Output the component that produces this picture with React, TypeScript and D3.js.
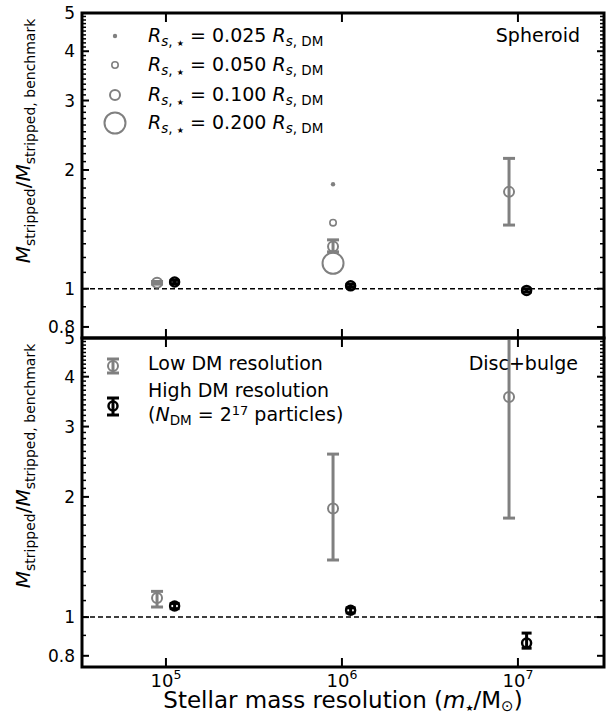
import React from 'react';
import * as d3 from 'd3';

const GRAY = '#808080';
const FONT = 'DejaVu Sans';

const resolutions = [1e5, 1e6, 1e7];
const xTickExp = [5, 6, 7];
const yMajor = [0.8, 1, 2, 3, 4, 5];
const yMajorLabels = ['0.8', '1', '2', '3', '4', '5'];
const lowOffset = 0.89;
const highOffset = 1.12;

// Spheroid panel (top)
const sphLowVal = [1.035, 1.28, 1.76];
const sphLowLo = [1.027, 1.24, 1.45];
const sphLowHi = [1.043, 1.33, 2.14];
const sphHighVal = [1.04, 1.017, 0.99];
const sphHighLo = [1.03, 1.008, 0.981];
const sphHighHi = [1.05, 1.026, 0.999];
// other stellar-size runs at 1e6 (low DM resolution)
const sizeLabels = ['0.025', '0.050', '0.100', '0.200'];
const sizeRadius = [2.2, 3.2, 5, 10.5];
const sphSizeVal = [1.84, 1.47, 1.16];
const sphSizeIdx = [0, 1, 3];

// Disc+bulge panel (bottom)
const discLowVal = [1.116, 1.87, 3.56];
const discLowLo = [1.06, 1.39, 1.77];
const discLowHi = [1.16, 2.56, 6.5];
const discHighVal = [1.066, 1.04, 0.861];
const discHighLo = [1.05, 1.025, 0.836];
const discHighHi = [1.082, 1.055, 0.912];

const L = 82, R = 604;
const x = d3.scaleLog().domain([Math.pow(10, 4.523), Math.pow(10, 7.489)]).range([L, R]);

const minorTicks: number[] = [];
for (let v = 0.8; v <= 5.001; v += 0.1) {
  const r = Math.round(v * 10) / 10;
  if (!yMajor.some((m) => Math.abs(m - r) < 1e-6)) minorTicks.push(r);
}

function ErrPoint({ cx, y, v, lo, hi, color, r, capW, lw, sw }: any) {
  return (
    <g>
      <line x1={cx} x2={cx} y1={y(lo)} y2={y(hi)} stroke={color} strokeWidth={lw} />
      <line x1={cx - capW / 2} x2={cx + capW / 2} y1={y(lo)} y2={y(lo)} stroke={color} strokeWidth={lw} />
      <line x1={cx - capW / 2} x2={cx + capW / 2} y1={y(hi)} y2={y(hi)} stroke={color} strokeWidth={lw} />
      <circle cx={cx} cy={y(v)} r={r} fill="none" stroke={color} strokeWidth={sw} />
    </g>
  );
}

function Panel({ top, bottom, id, low, lowLo, lowHi, high, highLo, highHi, children }: any) {
  const y = d3.scaleLog().domain([0.75, 5]).range([bottom, top]);
  return (
    <g>
      <defs>
        <clipPath id={id}>
          <rect x={L} y={top} width={R - L} height={bottom - top} />
        </clipPath>
      </defs>
      <g clipPath={`url(#${id})`}>
        <line x1={L} x2={R} y1={y(1)} y2={y(1)} stroke="#000" strokeWidth={1.5} strokeDasharray="5,3" />
        {resolutions.map((r, i) => (
          <ErrPoint key={'l' + i} cx={x(r * lowOffset)} y={y} v={low[i]} lo={lowLo[i]} hi={lowHi[i]}
            color={GRAY} r={5} capW={12} lw={3} sw={2} />
        ))}
        {resolutions.map((r, i) => (
          <ErrPoint key={'h' + i} cx={x(r * highOffset)} y={y} v={high[i]} lo={highLo[i]} hi={highHi[i]}
            color="#000" r={4.5} capW={10} lw={3} sw={2.5} />
        ))}
        {children ? children(y) : null}
      </g>
      {minorTicks.map((t) => (
        <g key={'m' + t}>
          <line x1={L} x2={L + 4} y1={y(t)} y2={y(t)} stroke="#000" strokeWidth={1.5} />
          <line x1={R} x2={R - 4} y1={y(t)} y2={y(t)} stroke="#000" strokeWidth={1.5} />
        </g>
      ))}
      {yMajor.map((t, i) => (
        <g key={'M' + t}>
          <line x1={L} x2={L + 7} y1={y(t)} y2={y(t)} stroke="#000" strokeWidth={2} />
          <line x1={R} x2={R - 7} y1={y(t)} y2={y(t)} stroke="#000" strokeWidth={2} />
          <text x={L - 7} y={y(t) + 6} textAnchor="end" fontSize={17} fontFamily={FONT} fill="#000">
            {yMajorLabels[i]}
          </text>
        </g>
      ))}
      {resolutions.map((r) => (
        <g key={'x' + r}>
          <line x1={x(r)} x2={x(r)} y1={bottom} y2={bottom - 9} stroke="#000" strokeWidth={2} />
          <line x1={x(r)} x2={x(r)} y1={top} y2={top + 9} stroke="#000" strokeWidth={2} />
        </g>
      ))}
      <rect x={L} y={top} width={R - L} height={bottom - top} fill="none" stroke="#000" strokeWidth={3} />
    </g>
  );
}

function YLabel({ cx, cy }: any) {
  return (
    <text transform={`translate(${cx},${cy}) rotate(-90)`} textAnchor="middle" fontFamily={FONT} fontSize={20} fill="#000">
      <tspan fontStyle="italic">M</tspan>
      <tspan fontSize={14} dy={5}>stripped</tspan>
      <tspan dy={-5}>/</tspan>
      <tspan fontStyle="italic">M</tspan>
      <tspan fontSize={14} dy={5}>stripped, benchmark</tspan>
    </text>
  );
}

function RLegendText({ tx, ty, val }: any) {
  return (
    <text x={tx} y={ty} fontFamily={FONT} fontSize={19} fill="#000">
      <tspan fontStyle="italic">R</tspan>
      <tspan fontSize={13.5} dy={4} fontStyle="italic">s</tspan>
      <tspan fontSize={13.5}>, </tspan>
      <tspan fontSize={8}>★</tspan>
      <tspan dy={-4}>{' = ' + val + ' '}</tspan>
      <tspan fontStyle="italic">R</tspan>
      <tspan fontSize={13.5} dy={4} fontStyle="italic">s</tspan>
      <tspan fontSize={13.5}>, DM</tspan>
    </text>
  );
}

export default function App() {
  const topT = 13, topB = 338, botT = 338, botB = 667;
  const legRows = [36, 65, 95, 123];
  return (
    <svg width={612} height={716} style={{ position: 'absolute', left: 0, top: 0 }}>
      <rect width={612} height={716} fill="#fff" />
      <Panel top={topT} bottom={topB} id="clipTop"
        low={sphLowVal} lowLo={sphLowLo} lowHi={sphLowHi}
        high={sphHighVal} highLo={sphHighLo} highHi={sphHighHi}>
        {(y: any) =>
          sphSizeVal.map((v, i) => {
            const k = sphSizeIdx[i];
            const rr = sizeRadius[k];
            return k === 0 ? (
              <circle key={'s' + i} cx={x(1e6 * lowOffset)} cy={y(v)} r={rr} fill={GRAY} />
            ) : (
              <circle key={'s' + i} cx={x(1e6 * lowOffset)} cy={y(v)} r={rr} fill="none" stroke={GRAY} strokeWidth={k === 1 ? 1.6 : 2} />
            );
          })
        }
      </Panel>
      <Panel top={botT} bottom={botB} id="clipBot"
        low={discLowVal} lowLo={discLowLo} lowHi={discLowHi}
        high={discHighVal} highLo={discHighLo} highHi={discHighHi} />

      {sizeLabels.map((s, i) => (
        <g key={'leg' + i}>
          {i === 0 ? (
            <circle cx={115} cy={legRows[i]} r={sizeRadius[i]} fill={GRAY} />
          ) : (
            <circle cx={115} cy={legRows[i]} r={sizeRadius[i]} fill="none" stroke={GRAY} strokeWidth={i === 1 ? 1.6 : 2} />
          )}
          <RLegendText tx={148} ty={legRows[i] + 6} val={s} />
        </g>
      ))}
      <text x={580} y={42} textAnchor="end" fontFamily={FONT} fontSize={19}>Spheroid</text>

      <line x1={113} x2={113} y1={359} y2={373} stroke={GRAY} strokeWidth={3} />
      <line x1={107} x2={119} y1={359} y2={359} stroke={GRAY} strokeWidth={3} />
      <line x1={107} x2={119} y1={373} y2={373} stroke={GRAY} strokeWidth={3} />
      <circle cx={113} cy={366} r={5} fill="none" stroke={GRAY} strokeWidth={2} />
      <text x={148} y={370} fontFamily={FONT} fontSize={19}>Low DM resolution</text>

      <line x1={113} x2={113} y1={398} y2={415} stroke="#000" strokeWidth={3} />
      <line x1={107} x2={119} y1={398} y2={398} stroke="#000" strokeWidth={3} />
      <line x1={107} x2={119} y1={415} y2={415} stroke="#000" strokeWidth={3} />
      <circle cx={113} cy={406} r={4.5} fill="none" stroke="#000" strokeWidth={2.5} />
      <text x={148} y={397} fontFamily={FONT} fontSize={19}>High DM resolution</text>
      <text x={148} y={421} fontFamily={FONT} fontSize={19}>
        <tspan>(</tspan>
        <tspan fontStyle="italic">N</tspan>
        <tspan fontSize={13.5} dy={4}>DM</tspan>
        <tspan dy={-4}> = 2</tspan>
        <tspan fontSize={13} dy={-6}>17</tspan>
        <tspan dy={6}> particles)</tspan>
      </text>
      <text x={578} y={370} textAnchor="end" fontFamily={FONT} fontSize={19}>Disc+bulge</text>

      {resolutions.map((r, i) => (
        <text key={'xl' + i} x={x(r)} y={687} textAnchor="middle" fontFamily={FONT} fontSize={18}>
          <tspan>10</tspan>
          <tspan fontSize={12.5} dy={-8}>{xTickExp[i]}</tspan>
        </text>
      ))}
      <text x={(L + R) / 2} y={708} textAnchor="middle" fontFamily={FONT} fontSize={23}>
        <tspan>Stellar mass resolution (</tspan>
        <tspan fontStyle="italic">m</tspan>
        <tspan fontSize={9} dy={3}>★</tspan>
        <tspan dy={-3}>/M</tspan>
        <tspan fontSize={15} dy={3}>⊙</tspan>
        <tspan dy={-3}>)</tspan>
      </text>

      <YLabel cx={30} cy={141} />
      <YLabel cx={30} cy={466} />
    </svg>
  );
}
